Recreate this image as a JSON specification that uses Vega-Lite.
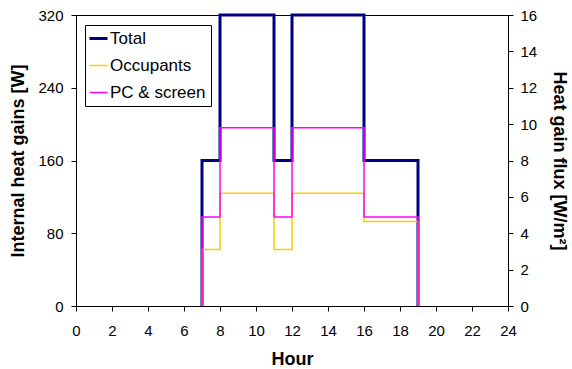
{
  "$schema": "https://vega.github.io/schema/vega-lite/v6.json",
  "autosize": {"type": "none"},
  "width": 432,
  "height": 291,
  "padding": {"left": 76, "top": 15, "right": 64, "bottom": 63},
  "background": "white",
  "config": {
    "font": "Liberation Sans",
    "view": {"stroke": "black", "strokeWidth": 1},
    "axis": {
      "grid": false,
      "domainColor": "black",
      "tickColor": "black",
      "labelColor": "black",
      "titleColor": "black",
      "labelFont": "Liberation Sans",
      "titleFont": "Liberation Sans",
      "labelFontSize": 15,
      "titleFontSize": 18,
      "titleFontWeight": "bold",
      "tickSize": 5
    },
    "axisBottom": {"labelOverlap": false, "labelSeparation": 0, "tickCount": 13, "labelFlush": false, "labelPadding": 12, "titlePadding": 12},
    "axisLeft": {"labelPadding": 8, "titlePadding": 10},
    "axisRight": {"labelPadding": 7, "titlePadding": 13}
  },
  "data": {
    "values": [
      {"series": "Total", "hour": 7, "watts": 0, "seq": 0},
      {"series": "Total", "hour": 7, "watts": 160, "seq": 1},
      {"series": "Total", "hour": 8, "watts": 320, "seq": 2},
      {"series": "Total", "hour": 11, "watts": 160, "seq": 3},
      {"series": "Total", "hour": 12, "watts": 320, "seq": 4},
      {"series": "Total", "hour": 16, "watts": 160, "seq": 5},
      {"series": "Total", "hour": 19, "watts": 0, "seq": 6},
      {"series": "Occupants", "hour": 7, "watts": 0, "seq": 0},
      {"series": "Occupants", "hour": 7, "watts": 62, "seq": 1},
      {"series": "Occupants", "hour": 8, "watts": 124, "seq": 2},
      {"series": "Occupants", "hour": 11, "watts": 62, "seq": 3},
      {"series": "Occupants", "hour": 12, "watts": 124, "seq": 4},
      {"series": "Occupants", "hour": 16, "watts": 93, "seq": 5},
      {"series": "Occupants", "hour": 19, "watts": 0, "seq": 6},
      {"series": "PC & screen", "hour": 7, "watts": 0, "seq": 0},
      {"series": "PC & screen", "hour": 7, "watts": 98, "seq": 1},
      {"series": "PC & screen", "hour": 8, "watts": 196, "seq": 2},
      {"series": "PC & screen", "hour": 11, "watts": 98, "seq": 3},
      {"series": "PC & screen", "hour": 12, "watts": 196, "seq": 4},
      {"series": "PC & screen", "hour": 16, "watts": 98, "seq": 5},
      {"series": "PC & screen", "hour": 19, "watts": 0, "seq": 6}
    ]
  },
  "resolve": {"scale": {"y": "independent"}},
  "layer": [
    {
      "layer": [
        {
          "transform": [{"filter": "datum.series === 'Total'"}],
          "mark": {"type": "line", "interpolate": "step-after", "strokeWidth": 3},
          "encoding": {
            "x": {
              "field": "hour",
              "type": "quantitative",
              "scale": {"domain": [0, 24], "nice": false},
              "axis": {
                "title": "Hour",
                "values": [0, 2, 4, 6, 8, 10, 12, 14, 16, 18, 20, 22, 24],
                "labelOverlap": false
              }
            },
            "y": {
              "field": "watts",
              "type": "quantitative",
              "scale": {"domain": [0, 320], "nice": false},
              "axis": {
                "title": "Internal heat gains [W]",
                "values": [0, 80, 160, 240, 320]
              }
            },
            "order": {"field": "seq"},
            "color": {
              "field": "series",
              "type": "nominal",
              "scale": {
                "domain": ["Total", "Occupants", "PC & screen"],
                "range": ["#000080", "#FFCC00", "#FF00FF"]
              },
              "legend": {
                "title": null,
                "orient": "none",
                "legendX": 9,
                "legendY": 10,
                "symbolType": "stroke",
                "symbolSize": 324,
                "symbolStrokeWidth": 1.5,
                "labelFontSize": 17,
                "labelFont": "Liberation Sans",
                "labelColor": "black",
                "strokeColor": "black",
                "padding": 5,
                "rowPadding": 9,
                "labelOffset": 3,
                "fillColor": "white",
                "encode": {
                  "symbols": {
                    "update": {
                      "strokeWidth": {"signal": "datum.value === 'Total' ? 3 : 1.5"}
                    }
                  }
                }
              }
            }
          }
        },
        {
          "transform": [{"filter": "datum.series === 'Occupants'"}],
          "mark": {"type": "line", "interpolate": "step-after", "strokeWidth": 1.5},
          "encoding": {
            "x": {"field": "hour", "type": "quantitative"},
            "y": {"field": "watts", "type": "quantitative"},
            "order": {"field": "seq"},
            "color": {"field": "series", "type": "nominal"}
          }
        },
        {
          "transform": [{"filter": "datum.series === 'PC & screen'"}],
          "mark": {"type": "line", "interpolate": "step-after", "strokeWidth": 1.5},
          "encoding": {
            "x": {"field": "hour", "type": "quantitative"},
            "y": {"field": "watts", "type": "quantitative"},
            "order": {"field": "seq"},
            "color": {"field": "series", "type": "nominal"}
          }
        }
      ]
    },
    {
      "mark": {"type": "rule", "opacity": 0},
      "encoding": {
        "y": {
          "datum": 0,
          "type": "quantitative",
          "scale": {"domain": [0, 16], "nice": false},
          "axis": {
            "title": "Heat gain flux [W/m²]",
            "orient": "right",
            "values": [0, 2, 4, 6, 8, 10, 12, 14, 16]
          }
        }
      }
    }
  ]
}
